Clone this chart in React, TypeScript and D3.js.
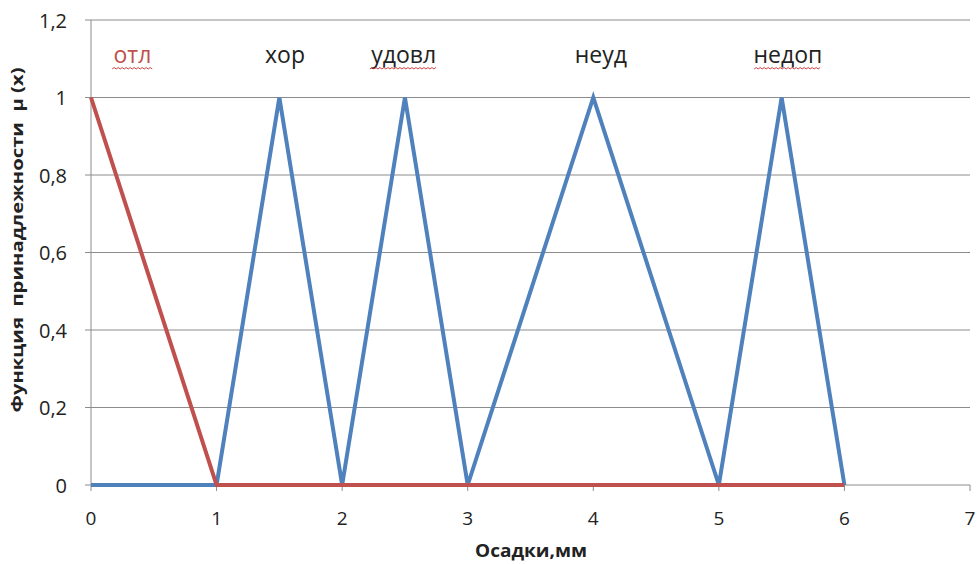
import React from "react";
import * as d3 from "d3";

const xTicks = [0, 1, 2, 3, 4, 5, 6, 7];
const yTicks = [0, 0.2, 0.4, 0.6, 0.8, 1, 1.2];
const blueX = [0, 1, 1.5, 2, 2.5, 3, 4, 5, 5.5, 6];
const blueY = [0, 0, 1, 0, 1, 0, 1, 0, 1, 0];
const redX = [0, 1, 6];
const redY = [1, 0, 0];
const labelText = ["отл", "хор", "удовл", "неуд", "недоп"];
const labelX = [0.33, 1.545, 2.49, 4.06, 5.55];
const labelSpell = [true, false, true, false, true];
const labelRed = [true, false, false, false, false];

const W = 979, H = 564;
const m = { left: 91, right: 9, top: 20, bottom: 79 };

export default function App() {
  const x = d3.scaleLinear().domain([0, 7]).range([m.left, W - m.right]);
  const y = d3.scaleLinear().domain([0, 1.2]).range([H - m.bottom, m.top]);
  const line = d3.line<[number, number]>().x(d => x(d[0])).y(d => y(d[1]));
  const blue = blueX.map((v, i) => [v, blueY[i]] as [number, number]);
  const red = redX.map((v, i) => [v, redY[i]] as [number, number]);
  const fmt = (v: number) => (Math.round(v * 10) / 10).toString().replace(".", ",");
  const font = "'Open Sans', 'Liberation Sans', sans-serif";
  const labelY = 63;

  const wavy = (cx: number, w: number, yy: number) => {
    let d = `M${cx - w / 2},${yy}`;
    const step = 2;
    let up = true;
    for (let px = cx - w / 2 + step; px <= cx + w / 2; px += step) {
      d += ` L${px},${yy + (up ? -1.5 : 0)}`;
      up = !up;
    }
    return d;
  };

  return (
    <svg width={W} height={H} style={{ position: "absolute", left: 0, top: 0, background: "#fff" }} fontFamily={font}>
      {yTicks.map(t => (
        <g key={"g" + t}>
          <line x1={x(0) - 6} x2={x(7)} y1={y(t)} y2={y(t)} stroke="#8c8c8c" strokeWidth={1} />
          <text x={67} y={y(t) + 7.5} textAnchor="end" fontSize={20} fill="#222">{fmt(t)}</text>
        </g>
      ))}
      <line x1={x(0)} x2={x(0)} y1={y(0)} y2={y(1.2)} stroke="#8c8c8c" strokeWidth={1} />
      {xTicks.map(t => (
        <g key={"x" + t}>
          <line x1={x(t)} x2={x(t)} y1={y(0)} y2={y(0) + 6} stroke="#8c8c8c" strokeWidth={1} />
          <text x={x(t)} y={525} textAnchor="middle" fontSize={19} fill="#222">{t}</text>
        </g>
      ))}
      <path d={line(blue) || ""} fill="none" stroke="#4f81bd" strokeWidth={4} strokeLinejoin="miter" />
      <path d={line(red) || ""} fill="none" stroke="#c0504d" strokeWidth={4} strokeLinejoin="miter" />
      {labelText.map((s, i) => {
        const cx = x(labelX[i]);
        const w = s.length * 13.5;
        return (
          <g key={s}>
            <text x={cx} y={labelY} textAnchor="middle" fontSize={23} fill={labelRed[i] ? "#c0504d" : "#222"}>{s}</text>
            {labelSpell[i] && <path d={wavy(cx, w, labelY + 6)} fill="none" stroke="#d04040" strokeWidth={1} />}
          </g>
        );
      })}
      <text x={531} y={557} textAnchor="middle" fontSize={17} fontWeight="bold" fill="#222" textLength={112} lengthAdjust="spacingAndGlyphs">Осадки,мм</text>
      <text transform={`translate(23,${240}) rotate(-90)`} textAnchor="middle" fontSize={16} fontWeight="bold" fill="#222" style={{ whiteSpace: "pre" }} textLength={345} lengthAdjust="spacingAndGlyphs">{"Функция  принадлежности  μ (x)"}</text>
    </svg>
  );
}
